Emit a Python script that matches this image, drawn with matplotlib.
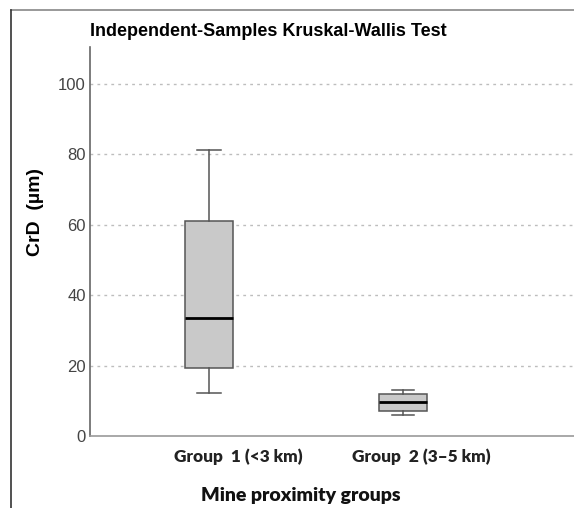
import numpy as np
import matplotlib.pyplot as plt
from matplotlib.lines import Line2D

# box summary values per group (CrD, µm)
groups = ["Group  1 (<3 km)", "Group  2 (3\u20135 km)"]
whisker_low = [12.3, 6.1]
q1 = [19.2, 7.2]
median = [33.4, 9.6]
q3 = [61.1, 11.8]
whisker_high = [81.2, 13.1]
yticks = [0, 20, 40, 60, 80, 100]

stats = []
for i, name in enumerate(groups):
    stats.append(dict(label=name, whislo=whisker_low[i], q1=q1[i], med=median[i],
                      q3=q3[i], whishi=whisker_high[i], fliers=[]))

fig = plt.figure(figsize=(5.74, 5.08), dpi=100)
ax = fig.add_axes([90/574, 1-436/508, 484/574, (436-47)/508])

ax.bxp(stats, positions=[1, 2], widths=0.25, capwidths=[0.124, 0.113],
       showfliers=False, patch_artist=True,
       boxprops=dict(facecolor="#c9c9c9", edgecolor="#555555", linewidth=1.1),
       whiskerprops=dict(color="#555555", linewidth=1.1),
       capprops=dict(color="#555555", linewidth=1.1),
       medianprops=dict(color="black", linewidth=2))

ax.set_xlim(0.387, 2.88)
ax.set_ylim(0, 110.5)
ax.set_yticks(yticks)
ax.set_yticklabels([str(v) for v in yticks], fontsize=12, color="#444444",
                   family="Liberation Sans")
ax.set_xticks([])
ax.tick_params(axis="y", length=0, pad=3)

for v in yticks[1:]:
    ax.axhline(v, xmax=0.995, color="#bdbdbd", linewidth=1, linestyle=(0, (2, 3)), zorder=0)

for side in ["top", "right"]:
    ax.spines[side].set_visible(False)
ax.spines["left"].set_color("#666666")
ax.spines["bottom"].set_color("#999999")
ax.spines["left"].set_linewidth(1.2)
ax.spines["bottom"].set_linewidth(1.2)

# group labels sit slightly right of the boxes
label_x = [238/574, 421/574]
for x, name in zip(label_x, groups):
    fig.text(x, 1-457/508, name, ha="center", va="center", fontsize=12.4,
             fontweight="heavy", family="Lato", color="#222222")

fig.text(301/574, 1-495/508, "Mine proximity groups", ha="center", va="center",
         fontsize=14, fontweight="heavy", family="Lato", color="#111111")
fig.text(268/574, 1-31/508, "Independent-Samples Kruskal-Wallis Test", ha="center",
         va="center", fontsize=13, fontweight="bold", family="Liberation Sans")
fig.text(35/574, 1-212.5/508, "CrD  (\u00b5m)", ha="center", va="center", rotation=90,
         fontsize=14, fontweight="bold", family="Liberation Sans")

# outer frame lines
fig.add_artist(Line2D([11/574, 1], [1-9.5/508, 1-9.5/508], color="#888888", linewidth=1.2))
fig.add_artist(Line2D([11/574, 11/574], [0, 1-9.5/508], color="#333333", linewidth=1.2))

fig.savefig("out.png", dpi=100)
